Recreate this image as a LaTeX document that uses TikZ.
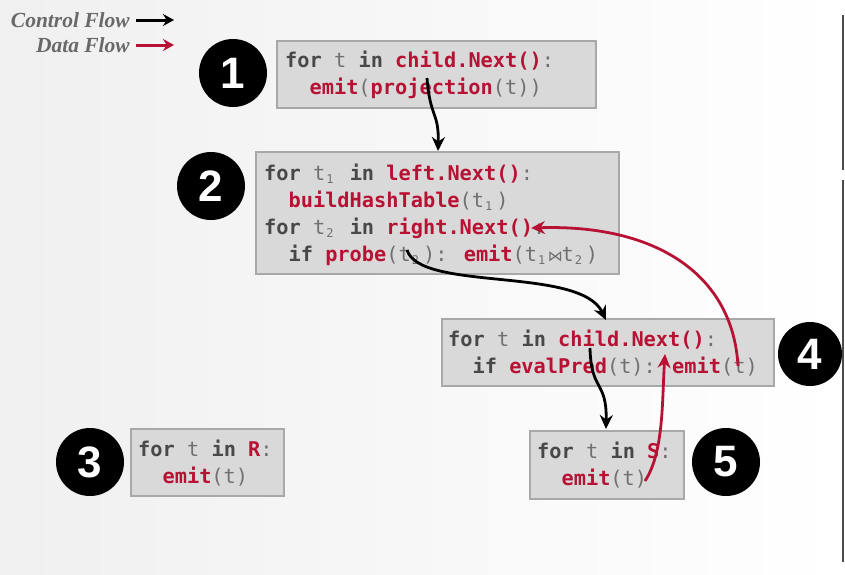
\documentclass[tikz,border=0pt]{standalone}
\usepackage{fontspec}
\setmainfont{Liberation Sans}
\newfontfamily\codefont{DejaVu Sans Mono}
\newfontfamily\legendfont{Liberation Serif}
\newfontfamily\numfont{Liberation Sans}
\newfontfamily\symfont{DejaVu Sans}
\usetikzlibrary{arrows.meta}
\definecolor{dbred}{RGB}{183,18,52}
\definecolor{codegray}{RGB}{112,112,112}
\definecolor{kwgray}{RGB}{72,72,72}
\definecolor{boxfill}{RGB}{217,217,217}
\definecolor{boxline}{RGB}{168,168,168}
\definecolor{legendgray}{RGB}{105,105,105}
\newlength\cw \setlength\cw{12.22pt}
\newcommand\kw[1]{\textbf{\color{kwgray}#1}}
\newcommand\rd[1]{\textbf{\color{dbred}#1}}
\newcommand\sub[1]{\makebox[\cw][c]{\hspace*{-3pt}\raisebox{-3pt}{\fontsize{12}{12}\selectfont #1}}}
\newcommand\bwt{\makebox[\cw][c]{\symfont\fontsize{15}{15}\selectfont ⋈}}
\tikzset{
  codebox/.style={draw=boxline, fill=boxfill, line width=2pt, inner sep=0pt, anchor=north west},
  code/.style={font=\codefont\fontsize{20.3}{27}\selectfont, text=codegray, inner sep=0pt, anchor=base west},
  numcircle/.style={circle, fill=black, text=white, inner sep=0pt, minimum size=68pt, font=\numfont\bfseries\fontsize{44}{44}\selectfont},
  legend/.style={font=\legendfont\bfseries\itshape\fontsize{21.5}{21.5}\selectfont, text=legendgray, inner sep=0pt, anchor=base east},
  ctrl/.style={line width=2.8pt, black, -{Stealth[length=14pt,width=13pt]}},
  dataf/.style={line width=2.8pt, dbred, -{Stealth[length=14pt,width=13pt]}},
  legarrow/.style={line width=3pt, -{Stealth[length=11pt,width=12pt]}},
}
\begin{document}
\begin{tikzpicture}[x=1pt,y=-1pt]
\useasboundingbox (0,0) rectangle (845,574);
\shade[left color=black!6, right color=white] (0,0) rectangle (845,574);
\draw[line width=1.3pt, black!70] (843,15) -- (843,170);
\draw[line width=1.3pt, black!70] (843,180) -- (843,562);

% legend
\node[legend] (lc) at (130,27.5) {Control Flow};
\node[legend] (ld) at (130,52.5) {Data Flow};
\coordinate (lca) at (136,20); \coordinate (lcb) at (174,20);
\coordinate (lda) at (136,45); \coordinate (ldb) at (174,45);
\draw[legarrow, black] (lca) -- (lcb);
\draw[legarrow, dbred] (lda) -- (ldb);

% boxes
\node[codebox, minimum width=319pt, minimum height=67pt] (b1) at (276,40) {};
\node[codebox, minimum width=363pt, minimum height=122pt] (b2) at (255,151) {};
\node[codebox, minimum width=332pt, minimum height=67pt] (b4) at (441,318) {};
\node[codebox, minimum width=154pt, minimum height=68pt] (b5) at (529,430) {};
\node[codebox, minimum width=153pt, minimum height=67pt] (b3) at (130,428) {};

% box 1
\node[code] (b1a) at (285,67) {\kw{for} t \kw{in} \rd{child.Next()}:};
\node[code] (b1b) at (309.4,94) {\rd{emit}(\rd{projection}(t))};
% box 2
\node[code] (b2a) at (264,180) {\kw{for} t\sub{1} \kw{in} \rd{left.Next()}:};
\node[code] (b2b) at (288.4,207) {\rd{buildHashTable}(t\sub{1})};
\node[code] (b2c) at (264,234) {\kw{for} t\sub{2} \kw{in} \rd{right.Next()}:};
\node[code] (b2d) at (288.4,261) {\kw{if} \rd{probe}(t\sub{2}): \rd{emit}(t\sub{1}\bwt t\sub{2})};
% box 4
\node[code] (b4a) at (448,346) {\kw{for} t \kw{in} \rd{child.Next()}:};
\node[code] (b4b) at (472.4,373) {\kw{if} \rd{evalPred}(t): \rd{emit}(t)};
% box 5
\node[code] (b5a) at (537,458) {\kw{for} t \kw{in} \rd{S}:};
\node[code] (b5b) at (561.4,485) {\rd{emit}(t)};
% box 3
\node[code] (b3a) at (138,456) {\kw{for} t \kw{in} \rd{R}:};
\node[code] (b3b) at (162.4,483) {\rd{emit}(t)};

% numbers
\node[numcircle] (n1) at (233,73) {1};
\node[numcircle] (n2) at (211,186) {2};
\node[numcircle] (n3) at (90,462) {3};
\node[numcircle, minimum size=64pt] (n4) at (810,354) {4};
\node[numcircle] (n5) at (726,462) {5};

% connector end points
\coordinate (c1s) at (427,78);  \coordinate (c1e) at (438,151);
\coordinate (c2s) at (407,250); \coordinate (c2e) at (606,320);
\coordinate (c3s) at (590,348); \coordinate (c3e) at (606,429);
\coordinate (d1s) at (738,366); \coordinate (d1e) at (531,228);
\coordinate (d2s) at (645,481); \coordinate (d2e) at (665,354);

% control flow
\draw[ctrl] (c1s) .. controls (430,118) and (439,112) .. (c1e);
\draw[ctrl] (c2s) .. controls (420,292) and (580,266) .. (c2e);
\draw[ctrl] (c3s) .. controls (591,392) and (607,380) .. (c3e);
% data flow
\draw[dataf] (d1s) .. controls (733,276) and (658,224) .. (d1e);
\draw[dataf] (d2s) .. controls (664,452) and (662,400) .. (d2e);
\end{tikzpicture}
\end{document}
